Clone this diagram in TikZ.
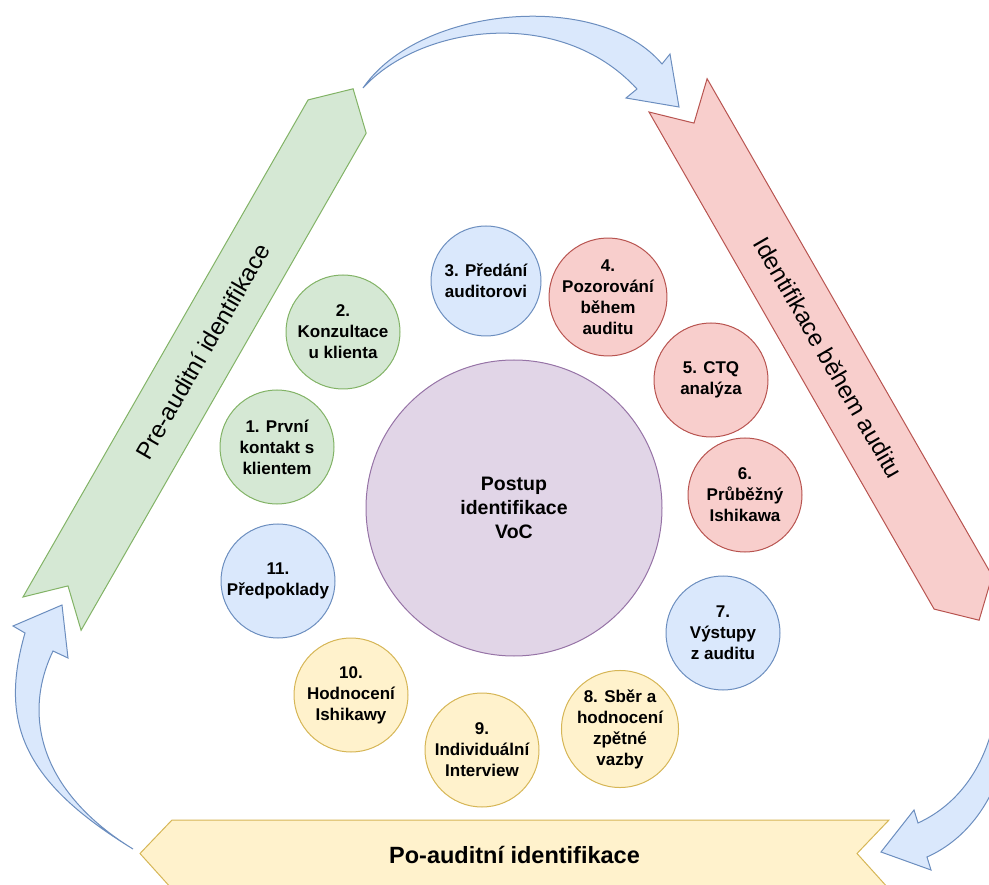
\documentclass[tikz,border=0pt]{standalone}
\usepackage{fontspec}
\setmainfont{Liberation Sans}
\definecolor{grfill}{HTML}{D5E8D4}\definecolor{grline}{HTML}{82B366}
\definecolor{rdfill}{HTML}{F8CECC}\definecolor{rdline}{HTML}{B85450}
\definecolor{blfill}{HTML}{DAE8FC}\definecolor{blline}{HTML}{6C8EBF}
\definecolor{ylfill}{HTML}{FFF2CC}\definecolor{ylline}{HTML}{D6B656}
\definecolor{pufill}{HTML}{E1D5E7}\definecolor{puline}{HTML}{9673A6}
\begin{document}
\begin{tikzpicture}[x=1pt,y=-1pt,
  line width=1pt, line join=miter,
  stage/.style={circle, minimum size=114pt, inner sep=0pt, align=center,
    font=\bfseries\fontsize{17}{21}\selectfont},
  grn/.style={fill=grfill, draw=grline},
  red/.style={fill=rdfill, draw=rdline},
  blu/.style={fill=blfill, draw=blline},
  yel/.style={fill=ylfill, draw=ylline},
  pur/.style={fill=pufill, draw=puline},
  bandtext/.style={font=\fontsize{24}{28}\selectfont},
  loop/.style={blu, line join=miter}]
\useasboundingbox (0,0) rectangle (989,885);
\clip (0,0) rectangle (989,885);

% phase bands (step shapes)
\draw[grn] (23,597) -- (68,585.9) -- (81.1,630.3) -- (366.2,133.2)
  -- (353.1,88.8) -- (308.1,99.9) -- cycle;
\draw[red] (649,112) -- (694,123.1) -- (707.1,78.7) -- (992.2,575.8)
  -- (979.1,620.2) -- (934.1,609.1) -- cycle;
\draw[yel] (889,820) -- (857,853.5) -- (889,889) -- (172,889)
  -- (140,853.5) -- (172,820) -- cycle;

\node[bandtext, rotate=60] (pre) at (202.6,351.3) {Pre-auditní identifikace};
\node[bandtext, rotate=-60] (during) at (828.6,357.7) {Identifikace během auditu};
\node[font=\bfseries\fontsize{23.5}{28}\selectfont] (post) at (514.5,855) {Po-auditní identifikace};

% curved transition arrows
\draw[loop] (363,88) .. controls (420,5) and (600,-10) .. (662,64)
  -- (670,54) -- (679,107) -- (626,98) -- (637,89)
  .. controls (560,5) and (420,25) .. (363,88) -- cycle;
\draw[loop] (133,849) .. controls (20,780) and (0,720) .. (25,633)
  -- (13,626) -- (62,605) -- (68,658) -- (53,651)
  .. controls (20,720) and (45,795) .. (133,849) -- cycle;
\draw[loop] (992,630) .. controls (1010,700) and (990,790) .. (918,823)
  -- (914,810) -- (881,852) -- (931,870) -- (927,857)
  .. controls (1010,820) and (1030,700) .. (992,630) -- cycle;

% central topic
\node[circle, pur, minimum size=296pt, inner sep=0pt, align=center,
  font=\bfseries\fontsize{19.5}{24}\selectfont] (voc) at (514,508)
  {Postup\\identifikace\\VoC};

% steps
\node[stage, grn] (s1) at (277,447) {1. První\\kontakt s\\klientem};
\node[stage, grn] (s2) at (343,332) {2.\\Konzultace\\u klienta};
\node[stage, blu, minimum size=110pt] (s3) at (486,281) {3. Předání\\auditorovi};
\node[stage, red] (s4) at (608,297) {4.\\Pozorování\\během\\auditu};
\node[stage, red] (s5) at (711,380) {5. CTQ\\analýza};
\node[stage, red] (s6) at (745,495) {6.\\Průběžný\\Ishikawa};
\node[stage, blu] (s7) at (723,633) {7.\\Výstupy\\z auditu};
\node[stage, yel] (s8) at (620,729) {8. Sběr a\\hodnocení\\zpětné\\vazby};
\node[stage, yel] (s9) at (482,750) {9.\\Individuální\\Interview};
\node[stage, yel] (s10) at (351,695) {10.\\Hodnocení\\Ishikawy};
\node[stage, blu] (s11) at (278,581) {11.\\Předpoklady};
\end{tikzpicture}
\end{document}
